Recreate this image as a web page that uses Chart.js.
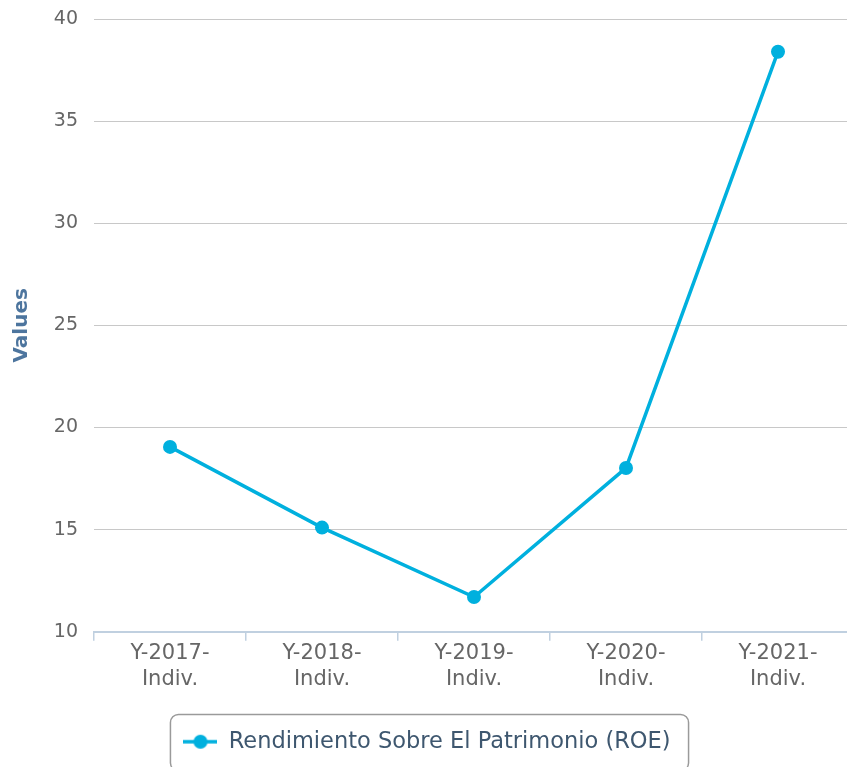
<!DOCTYPE html>
<html lang="es">
<head>
  <meta charset="UTF-8" />
  <title>Rendimiento Sobre El Patrimonio (ROE)</title>
  <script src="https://cdn.jsdelivr.net/npm/chart.js"></script>
  <style>
    html, body { margin: 0; padding: 0; background: #fff; overflow: hidden; }
    #wrap { position: relative; width: 854px; height: 773px; }
  </style>
</head>
<body>
  <div id="wrap">
    <canvas id="graficoROE" width="854" height="773"></canvas>
  </div>

  <script>
    // datos
    const categorias = [
      ['Y-2017-', 'Indiv.'],
      ['Y-2018-', 'Indiv.'],
      ['Y-2019-', 'Indiv.'],
      ['Y-2020-', 'Indiv.'],
      ['Y-2021-', 'Indiv.']
    ];
    const nombreSerie = 'Rendimiento Sobre El Patrimonio (ROE)';
    const valoresROE = [19.05, 15.1, 11.7, 18.02, 38.4];
    const ticksY = [10, 15, 20, 25, 30, 35, 40];
    const tituloY = 'Values';

    const AZUL = '#00b0de';
    const FUENTE = '"DejaVu Sans", Verdana, sans-serif';

    // simbolo de la leyenda: linea con punto
    const simbolo = document.createElement('canvas');
    simbolo.width = 34;
    simbolo.height = 16;
    const sc = simbolo.getContext('2d');
    sc.strokeStyle = AZUL;
    sc.lineWidth = 3.5;
    sc.beginPath(); sc.moveTo(0, 8); sc.lineTo(34, 8); sc.stroke();
    sc.fillStyle = AZUL;
    sc.beginPath(); sc.arc(17, 8, 7, 0, Math.PI * 2); sc.fill();

    // marco redondeado alrededor de la leyenda
    const marcoLeyenda = {
      id: 'marcoLeyenda',
      afterDraw(chart) {
        const hb = chart.legend && chart.legend.legendHitBoxes[0];
        if (!hb) return;
        const ctx = chart.ctx;
        ctx.save();
        ctx.strokeStyle = '#9a9a9a';
        ctx.lineWidth = 1.5;
        ctx.beginPath();
        ctx.roundRect(hb.left - 13, hb.top - 16, hb.width + 31, hb.height + 34, 8);
        ctx.stroke();
        ctx.restore();
      }
    };

    new Chart(document.getElementById('graficoROE'), {
      type: 'line',
      data: {
        labels: categorias,
        datasets: [{
          label: nombreSerie,
          data: valoresROE,
          borderColor: AZUL,
          backgroundColor: AZUL,
          borderWidth: 3.5,
          pointRadius: 7,
          pointBorderWidth: 0,
          pointBackgroundColor: AZUL,
          tension: 0,
          fill: false
        }]
      },
      options: {
        responsive: false,
        animation: false,
        layout: { autoPadding: false, padding: { top: 19, left: 0, right: 0, bottom: 10 } },
        scales: {
          x: {
            offset: true,
            grid: {
              offset: true,
              drawOnChartArea: false,
              drawTicks: true,
              tickLength: 9,
              color: '#c0d0e0',
              lineWidth: 1.5
            },
            border: { display: true, color: '#c0d0e0', width: 2 },
            ticks: {
              padding: 0,
              maxRotation: 0,
              autoSkip: false,
              color: '#666666',
              font: { family: FUENTE, size: 21, lineHeight: 1.24 }
            },
            afterFit(scale) { scale.height = 88.75; }
          },
          y: {
            min: ticksY[0],
            max: ticksY[ticksY.length - 1],
            ticks: {
              stepSize: ticksY[1] - ticksY[0],
              padding: 0,
              color: '#666666',
              font: { family: FUENTE, size: 19 }
            },
            // marcas invisibles: solo separan las etiquetas del area
            grid: { color: '#c8c8c8', lineWidth: 1, drawTicks: true, tickLength: 16, tickColor: 'rgba(0,0,0,0)' },
            border: { display: false },
            title: {
              display: true,
              text: tituloY,
              color: '#4d759e',
              padding: { top: 10, bottom: 0 },
              font: { family: FUENTE, size: 20, weight: 'bold' }
            },
            afterFit(scale) { scale.width = 94; }
          }
        },
        plugins: {
          legend: {
            position: 'bottom',
            labels: {
              usePointStyle: true,
              pointStyle: simbolo,
              pointStyleWidth: 34,
              padding: 10,
              color: '#3e576f',
              font: { family: FUENTE, size: 22.5 }
            }
          },
          tooltip: { enabled: false }
        }
      },
      plugins: [marcoLeyenda]
    });
  </script>
</body>
</html>
